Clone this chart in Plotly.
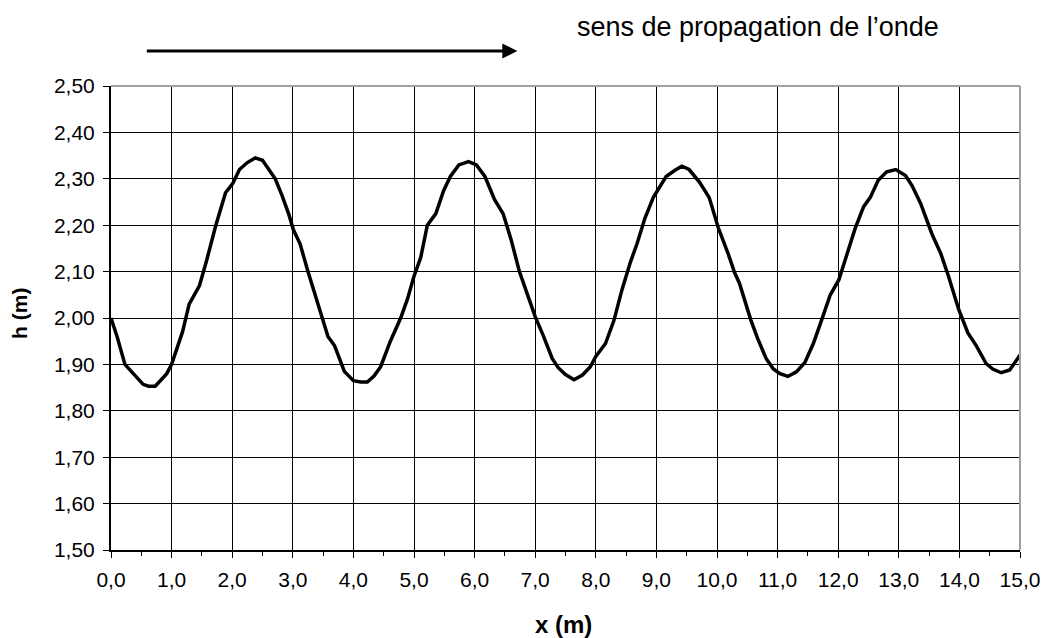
import plotly.graph_objects as go

# Wave profile h(x)
x_m = [0.0, 0.1, 0.23, 0.37, 0.53, 0.62, 0.73, 0.92, 1.0, 1.18, 1.29, 1.46, 1.57, 1.73, 1.89,
       2.01, 2.12, 2.25, 2.38, 2.5, 2.6, 2.71, 2.82, 2.93, 3.01, 3.12, 3.25, 3.42, 3.58, 3.69,
       3.85, 4.0, 4.12, 4.23, 4.34, 4.45, 4.61, 4.78, 4.89, 5.0, 5.11, 5.22, 5.36, 5.49, 5.6,
       5.74, 5.9, 6.03, 6.17, 6.33, 6.47, 6.6, 6.74, 6.9, 7.0, 7.14, 7.28, 7.38, 7.5, 7.64,
       7.78, 7.91, 8.0, 8.16, 8.3, 8.43, 8.57, 8.68, 8.81, 8.95, 9.16, 9.3, 9.42, 9.54, 9.71,
       9.87, 10.02, 10.18, 10.29, 10.37, 10.56, 10.67, 10.81, 10.93, 11.04, 11.17, 11.31, 11.45,
       11.59, 11.73, 11.87, 12.01, 12.15, 12.28, 12.42, 12.53, 12.66, 12.8, 12.95, 13.11, 13.22,
       13.36, 13.55, 13.69, 13.82, 13.99, 14.14, 14.28, 14.44, 14.55, 14.69, 14.83, 15.0]
h_m = [2.00, 1.96, 1.90, 1.88, 1.857, 1.853, 1.853, 1.88, 1.90, 1.97, 2.03, 2.07, 2.12, 2.20, 2.27,
       2.29, 2.32, 2.335, 2.345, 2.34, 2.32, 2.30, 2.265, 2.225, 2.19, 2.16, 2.10, 2.025, 1.96, 1.94,
       1.885, 1.865, 1.862, 1.862, 1.875, 1.895, 1.95, 2.00, 2.04, 2.09, 2.13, 2.20, 2.225, 2.275, 2.305,
       2.33, 2.337, 2.33, 2.305, 2.255, 2.225, 2.17, 2.10, 2.04, 2.003, 1.96, 1.913, 1.893, 1.878, 1.867,
       1.877, 1.895, 1.917, 1.945, 1.995, 2.06, 2.12, 2.16, 2.215, 2.26, 2.305, 2.318, 2.327, 2.32, 2.293,
       2.26, 2.195, 2.14, 2.098, 2.075, 1.995, 1.956, 1.913, 1.89, 1.88, 1.874, 1.884, 1.904,
       1.945, 1.997, 2.05, 2.082, 2.14, 2.193, 2.24, 2.26, 2.297, 2.315, 2.32, 2.307, 2.285,
       2.247, 2.18, 2.14, 2.09, 2.018, 1.968, 1.94, 1.902, 1.89, 1.882, 1.888, 1.92]

x_ticks = [i * 1.0 for i in range(16)]
y_ticks = [1.5 + i * 0.1 for i in range(11)]

font_family = "Liberation Sans, Arial, sans-serif"

fig = go.Figure()
fig.add_trace(go.Scatter(x=x_m, y=h_m, mode="lines",
                         line=dict(color="black", width=3.5), hoverinfo="skip"))

fig.update_layout(
    width=1052, height=638,
    margin=dict(l=111, r=24, t=86, b=88),
    paper_bgcolor="white", plot_bgcolor="white",
    separators=", ",
    showlegend=False,
    font=dict(family=font_family, color="black", size=21),
)

fig.update_xaxes(
    range=[0, 15], tickmode="array", tickvals=x_ticks, tickformat=".1f",
    showgrid=True, gridcolor="black", gridwidth=1,
    showline=True, linecolor="black", linewidth=2,
    ticks="outside", ticklen=6, tickcolor="black", tickwidth=1,
    ticklabelstandoff=4,
    minor=dict(dtick=0.5, ticks="outside", ticklen=4, tickcolor="black", showgrid=False),
    tickfont=dict(size=21, family=font_family), zeroline=False,
)
fig.update_yaxes(
    range=[1.5, 2.5], tickmode="array", tickvals=y_ticks, tickformat=".2f",
    showgrid=True, gridcolor="black", gridwidth=1,
    showline=True, linecolor="black", linewidth=2,
    ticks="outside", ticklen=6, tickcolor="black", tickwidth=1,
    ticklabelstandoff=4,
    tickfont=dict(size=21, family=font_family), zeroline=False,
)

# top and right gray frame lines
fig.add_shape(type="line", xref="paper", yref="paper", x0=0, x1=1, y0=1, y1=1,
              line=dict(color="#a0a0a0", width=2))
fig.add_shape(type="line", xref="paper", yref="paper", x0=1, x1=1, y0=0, y1=1,
              line=dict(color="#a0a0a0", width=2))

# axis titles
fig.add_annotation(text="<b>x (m)</b>", xref="paper", yref="paper", x=0.498, y=-0.1616,
                   showarrow=False, font=dict(size=24, family=font_family),
                   xanchor="center", yanchor="middle")
fig.add_annotation(text="<b>h (m)</b>", xref="paper", yref="paper", x=-0.1, y=0.509,
                   showarrow=False, textangle=-90, font=dict(size=21, family=font_family),
                   xanchor="center", yanchor="middle")

# propagation arrow and label
fig.add_annotation(text="", xref="paper", yref="paper", x=0.447, y=1.0754,
                   ax=-372, ay=0, axref="pixel", ayref="pixel",
                   showarrow=True, arrowhead=2, arrowsize=1, arrowwidth=3, arrowcolor="black")
fig.add_annotation(text="sens de propagation de l\u2019onde", xref="paper", yref="paper",
                   x=0.712, y=1.127, showarrow=False, font=dict(size=27, family=font_family),
                   xanchor="center", yanchor="middle")

fig.write_html("out.html")
